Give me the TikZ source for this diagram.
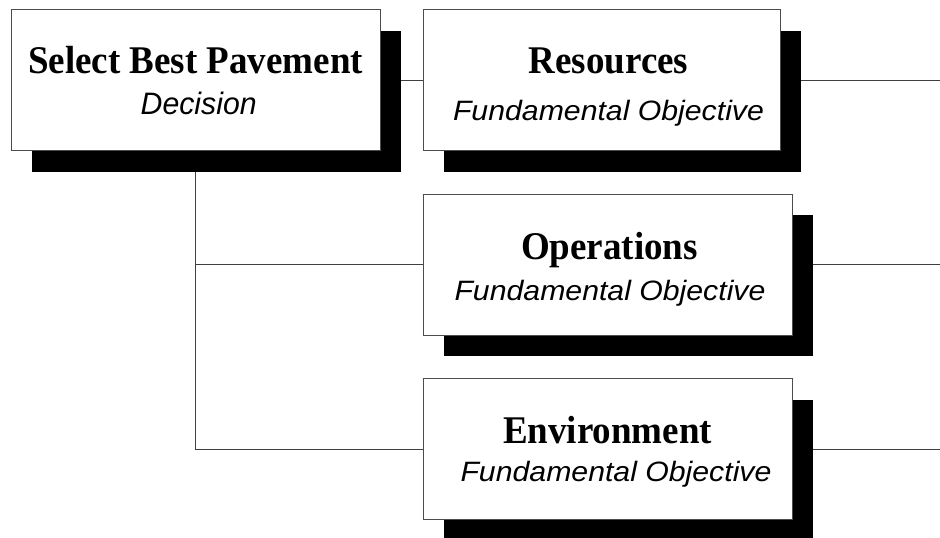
\documentclass[tikz,border=0pt]{standalone}
\usepackage{fontspec}
\setmainfont{Liberation Serif}
\setsansfont{Liberation Sans}
\usetikzlibrary{shadows,backgrounds}
\tikzset{
  box/.style={rectangle, draw=black!70, line width=0.8pt, fill=white, inner sep=0pt,
    minimum width=369pt, minimum height=141pt,
    drop shadow={shadow xshift=21pt, shadow yshift=-21pt, fill=black, opacity=1}},
  title/.style={anchor=base, inner sep=0pt, font=\fontsize{37}{40}\selectfont\bfseries},
  sub/.style={anchor=base, inner sep=0pt, font=\fontsize{28}{30}\selectfont\sffamily\itshape},
  link/.style={draw=black!75, line width=1pt},
}
\newcommand{\wide}[1]{\scalebox{1.08}[1]{#1}}
\newcommand{\tall}[1]{\scalebox{1}[1.06]{#1}}
\begin{document}
\begin{tikzpicture}[x=1pt,y=-1pt]
\useasboundingbox (0,0) rectangle (940,538);
% boxes
\node[box] (dec) at (195.5,80) {};
\node[box, minimum width=357pt] (res) at (601.5,80) {};
\node[box] (ops) at (607.5,264.5) {};
\node[box] (env) at (607.5,449) {};
% texts
\node[title] (dect) at (195.5,73) {\tall{Select Best Pavement}};
\node[sub, font=\fontsize{31}{33}\selectfont\sffamily\itshape] (decs) at (198.7,114) {\scalebox{0.975}[1]{Decision}};
\node[title] (rest) at (608.5,73) {\tall{Resources}};
\node[sub] (ress) at (608.5,120.5) {\wide{Fundamental Objective}};
\node[title] (opst) at (609.5,259) {\tall{Operations}};
\node[sub] (opss) at (610,300) {\wide{Fundamental Objective}};
\node[title] (envt) at (607.5,443) {\tall{Environment}};
\node[sub] (envs) at (616,481) {\wide{Fundamental Objective}};
% free end of the outgoing lines
\coordinate (redge) at (940,0);
% connectors
\begin{scope}[on background layer]
  \draw[link] (dec.east) -- (res.west);
  \draw[link] (dec.south) -- (dec.south |- env.west) -- (env.west);
  \draw[link] (dec.south |- ops.west) -- (ops.west);
  \draw[link] (res.east) -- (res.east -| redge);
  \draw[link] (ops.east) -- (ops.east -| redge);
  \draw[link] (env.east) -- (env.east -| redge);
\end{scope}
\end{tikzpicture}
\end{document}
